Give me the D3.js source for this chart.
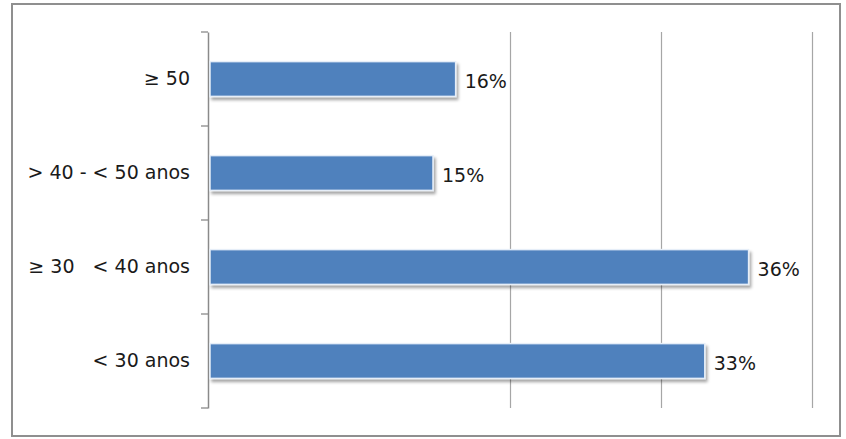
<!DOCTYPE html>
<html>
<head>
<meta charset="utf-8">
<script src="https://cdn.jsdelivr.net/npm/d3@7"></script>
<style>
  html, body { margin: 0; padding: 0; background: #fff; }
  svg { display: block; }
  text { white-space: pre; }
</style>
</head>
<body>
<svg id="chart" width="846" height="439"></svg>
<script>
// Data (top to bottom)
const categories = ["≥ 50", "> 40 - < 50 anos", "≥ 30   < 40 anos", "< 30 anos"];
const values = [0.164, 0.149, 0.358, 0.329];
const gridValues = [0.2, 0.3, 0.4];

const svg = d3.select("#chart");
const W = 846, H = 439;
const margin = { left: 208, right: 34, top: 32, bottom: 31 };

const defs = svg.append("defs");
const f = defs.append("filter").attr("id", "shadow")
  .attr("x", "-5%").attr("y", "-30%").attr("width", "110%").attr("height", "170%");
f.append("feDropShadow").attr("dx", 2).attr("dy", 3).attr("stdDeviation", 1.8)
  .attr("flood-color", "#000").attr("flood-opacity", 0.35);

// outer frame
svg.append("rect").attr("x", 12).attr("y", 4).attr("width", 828).attr("height", 432)
  .attr("fill", "#fff").attr("stroke", "#8f8f8f").attr("stroke-width", 2);

const x = d3.scaleLinear().domain([0, 0.4]).range([margin.left, W - margin.right]);
const y = d3.scaleBand().domain(categories).range([margin.top, H - margin.bottom]).paddingInner(0.63).paddingOuter(0.315);
const yb = d3.scaleBand().domain(categories).range([margin.top, H - margin.bottom]);

// gridlines
svg.append("g").selectAll("line").data(gridValues).join("line")
  .attr("x1", d => Math.round(x(d)) + 0.5).attr("x2", d => Math.round(x(d)) + 0.5)
  .attr("y1", margin.top).attr("y2", H - margin.bottom)
  .attr("stroke", "#a6a6a6").attr("stroke-width", 1.2);

// y axis
const yAxis = d3.axisLeft(yb).tickSize(0).tickPadding(18).tickSizeOuter(0);
const gy = svg.append("g").attr("transform", `translate(${margin.left},0)`).call(yAxis);
gy.select(".domain").attr("stroke", "#8a8a8a").attr("stroke-width", 1.5);
gy.selectAll("text").attr("font-family", "DejaVu Sans").attr("font-size", 19).attr("fill", "#1a1a1a")
  .attr("xml:space", "preserve");
// boundary ticks
const bounds = categories.map(c => yb(c)).concat([yb(categories[categories.length - 1]) + yb.bandwidth()]);
svg.append("g").selectAll("line").data(bounds).join("line")
  .attr("x1", margin.left - 7).attr("x2", margin.left)
  .attr("y1", d => d).attr("y2", d => d)
  .attr("stroke", "#8a8a8a").attr("stroke-width", 1.3);

// bars
svg.append("g").selectAll("rect").data(values).join("rect")
  .attr("x", x(0) + 2)
  .attr("y", (d, i) => y(categories[i]))
  .attr("width", d => x(d) - x(0) - 2)
  .attr("height", y.bandwidth())
  .attr("fill", "#4f81bd")
  .attr("stroke", "#e6eef8").attr("stroke-width", 1.5)
  .attr("filter", "url(#shadow)");

// value labels
const fmt = d3.format(".0%");
svg.append("g").selectAll("text").data(values).join("text")
  .attr("x", d => x(d) + 9)
  .attr("y", (d, i) => y(categories[i]) + y.bandwidth() / 2 + 2)
  .attr("dy", "0.35em")
  .attr("font-family", "DejaVu Sans").attr("font-size", 19).attr("fill", "#1a1a1a")
  .text(d => fmt(d));
</script>
</body>
</html>
